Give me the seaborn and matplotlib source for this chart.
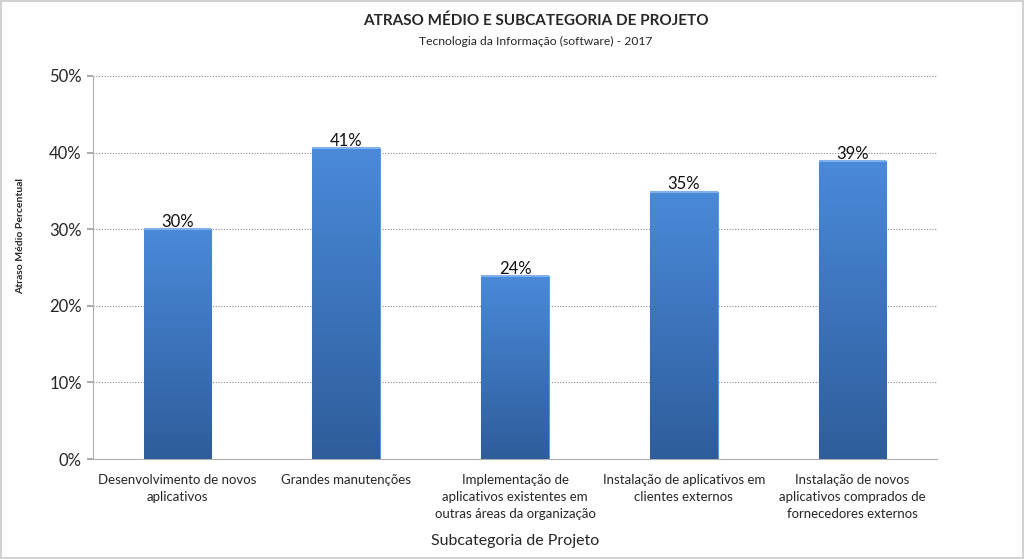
import numpy as np
import pandas as pd
import matplotlib
matplotlib.use("Agg")
import matplotlib.pyplot as plt
from matplotlib.colors import LinearSegmentedColormap
import seaborn as sns

categories = [
    "Desenvolvimento de novos\naplicativos",
    "Grandes manutenções",
    "Implementação de\naplicativos existentes em\noutras áreas da organização",
    "Instalação de aplicativos em\nclientes externos",
    "Instalação de novos\naplicativos comprados de\nfornecedores externos",
]
values = [30.0, 40.6, 23.9, 34.9, 38.9]
labels = ["30%", "41%", "24%", "35%", "39%"]
yticks = [0, 10, 20, 30, 40, 50]

sns.set_theme(style="white")
plt.rcParams["font.family"] = ["Lato", "DejaVu Sans"]

df = pd.DataFrame({"cat": categories, "val": values})

fig = plt.figure(figsize=(10.24, 5.59), dpi=100)
ax = fig.add_axes([93 / 1024, 1 - 459 / 559, (937 - 93) / 1024, (459 - 76) / 559])

sns.barplot(data=df, x="cat", y="val", color="#3f7fd0", width=0.4, ax=ax,
            edgecolor="#5d9be0", linewidth=0.8, zorder=3)

cmap = LinearSegmentedColormap.from_list("g", ["#2f5d9a", "#3c73bb", "#4a8ad9"])
grad = np.linspace(0, 1, 256).reshape(-1, 1)
for p in ax.patches:
    x0, y0 = p.get_x(), p.get_y()
    w, h = p.get_width(), p.get_height()
    im = ax.imshow(grad, cmap=cmap, aspect="auto", origin="lower",
                   extent=[x0, x0 + w, y0, y0 + h], zorder=3.5)
    im.set_clip_path(p)
    ax.plot([x0, x0 + w], [y0 + h, y0 + h], color="#7fb2ec", lw=1.5, zorder=4,
            solid_capstyle="butt")

for i, (v, lab) in enumerate(zip(values, labels)):
    ax.text(i, v - 0.1, lab, ha="center", va="bottom", fontsize=12, color="#111111", zorder=5)

ax.set_xlim(-0.5, len(categories) - 0.5)
ax.set_ylim(0, 50)
ax.set_yticks(yticks)
ax.set_yticklabels([f"{t}%" for t in yticks], fontsize=12)
for t in yticks[1:]:
    ax.axhline(t, color="#8a8a8a", lw=0.8, ls=(0, (1, 1.5)), zorder=1)
ax.tick_params(axis="y", length=4, color="#a0a0a0", direction="out", left=True, pad=4)
ax.tick_params(axis="x", length=0, pad=11)
for lab in ax.get_xticklabels():
    lab.set_fontsize(9.5)
    lab.set_linespacing(1.5)
for s in ["top", "right"]:
    ax.spines[s].set_visible(False)
for s in ["left", "bottom"]:
    ax.spines[s].set_color("#b0b0b0")
    ax.spines[s].set_linewidth(0.8)

ax.set_xlabel("Subcategoria de Projeto", fontsize=11.5, labelpad=10)
ax.set_ylabel("Atraso Médio Percentual", fontsize=7.5, fontweight="bold")
ax.yaxis.set_label_coords(-0.080, 0.582)

fig.text(536 / 1024, 1 - 21 / 559, "ATRASO MÉDIO E SUBCATEGORIA DE PROJETO", ha="center",
         va="center", fontsize=11, fontweight="bold")
fig.text(536 / 1024, 1 - 41 / 559, "Tecnologia da Informação (software) - 2017", ha="center",
         va="center", fontsize=8.7)

fig.patches.append(plt.Rectangle((0.001, 0.001), 0.998, 0.998, transform=fig.transFigure,
                                 fill=False, edgecolor="#c8c8c8", lw=1.2))

fig.savefig("out.png", dpi=100, facecolor="white")
